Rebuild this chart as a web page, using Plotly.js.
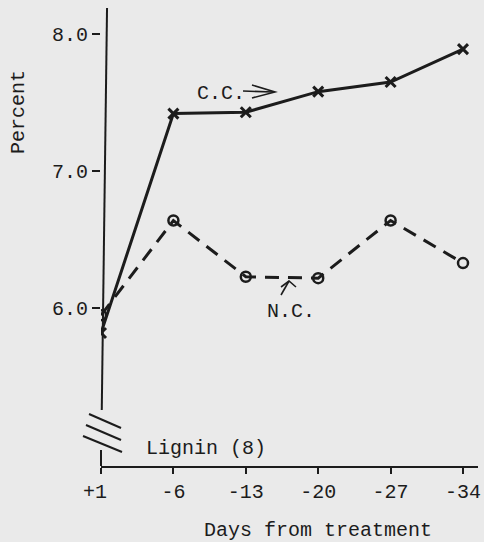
<!DOCTYPE html>
<html>
<head>
<meta charset="utf-8">
<script src="https://cdn.plot.ly/plotly-3.0.1.min.js"></script>
<style>
  html, body { margin: 0; padding: 0; background: #eaeaea; }
  #chart { width: 484px; height: 542px; }
</style>
</head>
<body>
<div id="chart"></div>
<script>
// Days from treatment (tick positions) and their labels
const days = [1, -6, -13, -20, -27, -34];
const dayLabels = ['+1\u00a0', '-6', '-13', '-20', '-27', '-34'];
// Lignin percent, C.C. (crosses, solid) and N.C. (circles, dashed)
const ccValues = [5.82, 7.42, 7.43, 7.58, 7.65, 7.89];
const ncValues = [5.95, 6.64, 6.23, 6.22, 6.64, 6.33];
const yTicks = [6, 7, 8];
const yTickLabels = ['6.0', '7.0', '8.0'];

const ink = '#1c1c1c';
const font = { family: 'Liberation Mono, Courier New, monospace', size: 20, color: ink };

// helper: convert pixel to paper coords (plot area: x 101..478, y 8..466)
const L = 101, R = 478, T = 8, B = 466;
const px = x => (x - L) / (R - L);
const py = y => (B - y) / (B - T);
const path = pts => pts.map((p, i) => (i ? 'L' : 'M') + px(p[0]).toFixed(4) + ',' + py(p[1]).toFixed(4)).join(' ');

const traces = [
  {
    x: days, y: ncValues, type: 'scatter', mode: 'lines+markers', name: 'N.C.',
    line: { color: ink, width: 3, dash: '14px,9px' },
    marker: { symbol: 'circle-open', size: 10, color: ink, line: { width: 2.5, color: ink } }
  },
  {
    x: days, y: ccValues, type: 'scatter', mode: 'lines+markers', name: 'C.C.',
    line: { color: ink, width: 3 },
    marker: { symbol: 'x-thin', size: 10, color: ink, line: { width: 3, color: ink } }
  }
];

const lineStyle = { color: ink, width: 2 };
const shapes = [
  // y axis upper segment and lower stub (axis broken)
  { type: 'line', xref: 'paper', yref: 'paper', x0: 0.016, x1: 0.002, y0: 1, y1: py(410), line: lineStyle },
  { type: 'line', xref: 'paper', yref: 'paper', x0: 0, x1: 0, y0: py(450), y1: 0, line: lineStyle },
  // break marks
  { type: 'path', xref: 'paper', yref: 'paper', path: path([[89, 414], [121, 428]]), line: lineStyle },
  { type: 'path', xref: 'paper', yref: 'paper', path: path([[86, 425], [121, 440]]), line: lineStyle },
  { type: 'path', xref: 'paper', yref: 'paper', path: path([[83, 436], [122, 452]]), line: lineStyle },
  // C.C. arrow
  { type: 'path', xref: 'paper', yref: 'paper', path: path([[243, 91], [273, 92]]), line: { color: ink, width: 1.6 } },
  { type: 'path', xref: 'paper', yref: 'paper', path: path([[252, 85], [275, 92], [252, 98]]), line: { color: ink, width: 1.6 } },
  // N.C. arrow
  { type: 'path', xref: 'paper', yref: 'paper', path: path([[281, 295], [289, 281]]), line: { color: ink, width: 1.6 } },
  { type: 'path', xref: 'paper', yref: 'paper', path: path([[281, 287], [289, 281], [296, 287]]), line: { color: ink, width: 1.6 } }
];

const ann = (text, x, y, extra) => Object.assign({
  text: text, xref: 'paper', yref: 'paper', x: px(x), y: py(y),
  xanchor: 'center', yanchor: 'middle', showarrow: false, font: font
}, extra || {});

const annotations = [
  ann('Percent', 19, 112, { textangle: -90 }),
  ann('Days from treatment', 318, 530),
  ann('Lignin (8)', 206, 448),
  ann('C.C.', 221, 93),
  ann('N.C.', 291, 311)
];

const layout = {
  width: 484, height: 542,
  margin: { l: L, r: 484 - R, t: T, b: 542 - B, pad: 0 },
  paper_bgcolor: '#eaeaea', plot_bgcolor: '#eaeaea',
  showlegend: false,
  font: font,
  xaxis: {
    range: [1, -35.45], tickvals: days, ticktext: dayLabels,
    showgrid: false, zeroline: false, showline: true, linecolor: ink, linewidth: 2,
    ticks: 'outside', ticklen: 6, tickwidth: 2, tickcolor: ink, tickfont: font
  },
  yaxis: {
    range: [4.85, 8.19], tickvals: yTicks, ticktext: yTickLabels,
    showgrid: false, zeroline: false, showline: false,
    ticks: 'outside', ticklen: 8, tickwidth: 2, tickcolor: ink, tickfont: font
  },
  shapes: shapes,
  annotations: annotations
};

Plotly.newPlot('chart', traces, layout, { displayModeBar: false, staticPlot: true });
</script>
</body>
</html>
